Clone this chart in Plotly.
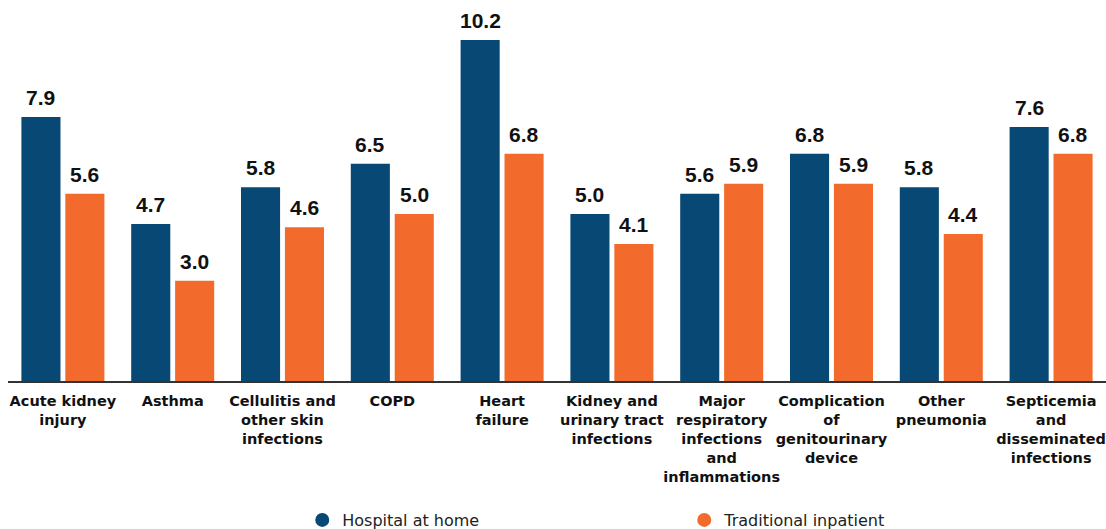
import plotly.graph_objects as go

categories = ["Acute kidney<br>injury", "Asthma", "Cellulitis and<br>other skin<br>infections", "COPD",
              "Heart<br>failure", "Kidney and<br>urinary tract<br>infections",
              "Major<br>respiratory<br>infections<br>and<br>inflammations",
              "Complication<br>of<br>genitourinary<br>device", "Other<br>pneumonia",
              "Septicemia<br>and<br>disseminated<br>infections"]
hospital_at_home = [7.9, 4.7, 5.8, 6.5, 10.2, 5.0, 5.6, 6.8, 5.8, 7.6]
traditional_inpatient = [5.6, 3.0, 4.6, 5.0, 6.8, 4.1, 5.9, 5.9, 4.4, 6.8]
series_names = ["Hospital at home", "Traditional inpatient"]
series_colors = ["#074874", "#F26B2D"]

FONT = "DejaVu Sans"
fig = go.Figure()
for name, vals, col in zip(series_names, [hospital_at_home, traditional_inpatient], series_colors):
    fig.add_trace(go.Bar(x=categories, y=vals, name=name, marker_color=col,
                         marker_line_width=0, showlegend=False, hoverinfo="x+y"))
    # legend entries with circular markers
    fig.add_trace(go.Scatter(x=[None], y=[None], mode="markers", name=name,
                             marker=dict(symbol="circle", size=14, color=col)))

# value labels above bars
for vals, shift in [(hospital_at_home, -22), (traditional_inpatient, 22)]:
    for c, v in zip(categories, vals):
        fig.add_annotation(x=c, y=v, text=f"{v:.1f}", showarrow=False,
                           xshift=shift, yshift=6, yanchor="bottom",
                           font=dict(family="Liberation Sans", size=21, color="#111111", weight="bold"))

fig.update_layout(
    width=1106, height=529,
    margin=dict(l=8, r=0, t=0, b=148),
    plot_bgcolor="white", paper_bgcolor="white",
    barmode="group", bargap=0.2, bargroupgap=0.11,
    font=dict(family=FONT, color="#111111"),
    xaxis=dict(showline=True, linecolor="#333333", linewidth=2, ticks="",
               automargin=False, ticklabelstandoff=6,
               tickfont=dict(family=FONT, size=14.5, color="#111111", weight="bold"),
               tickangle=0),
    yaxis=dict(range=[0, 11.40], visible=False, showgrid=False, fixedrange=True),
    legend=dict(orientation="h", x=0.268, xref="paper", y=0.017, yref="container",
                xanchor="left", yanchor="middle",
                entrywidth=337, font=dict(family=FONT, size=16, color="#222222"),
                itemwidth=30),
    showlegend=True,
)
fig.write_html("out.html", config={"displayModeBar": False},
               post_script="document.body.style.margin='0';document.body.style.overflow='hidden';")
